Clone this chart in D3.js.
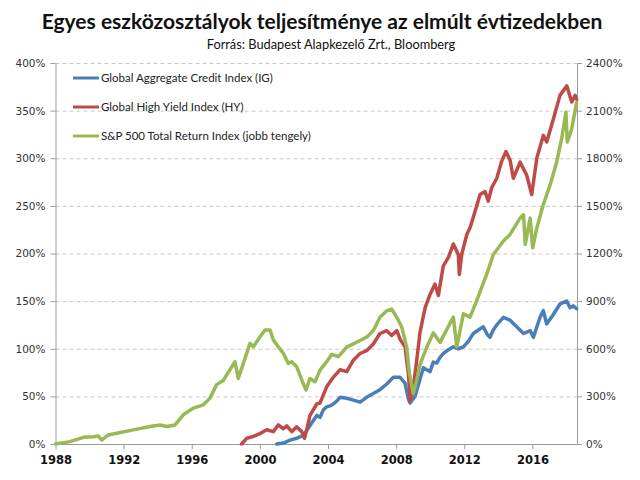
<!DOCTYPE html>
<html><head><meta charset="utf-8">
<script src="https://cdn.jsdelivr.net/npm/d3@7"></script>
<style>body{margin:0;background:#fff}svg{display:block}</style>
</head><body>
<svg id="c" width="640" height="480"></svg>
<script>
const titleText = "Egyes eszközosztályok teljesítménye az elmúlt évtizedekben";
const subtitleText = "Forrás: Budapest Alapkezelő Zrt., Bloomberg";
const seriesNames = ["Global Aggregate Credit Index (IG)", "Global High Yield Index (HY)", "S&P 500 Total Return Index (jobb tengely)"];
const xTicks = [1988, 1992, 1996, 2000, 2004, 2008, 2012, 2016];
const leftTicks = [0, 50, 100, 150, 200, 250, 300, 350, 400];
const rightTicks = [0, 300, 600, 900, 1200, 1500, 1800, 2100, 2400];

const igDates = [2000.99,2001.38,2001.77,2002.16,2002.55,2002.75,2003.04,2003.34,2003.53,2003.73,2003.92,2004.12,2004.31,2004.51,2004.71,2005.10,2005.49,2005.88,2006.27,2006.66,2007.05,2007.45,2007.84,2008.23,2008.52,2008.72,2008.82,2009.11,2009.40,2009.60,2009.80,2009.99,2010.18,2010.38,2010.58,2010.77,2011.07,2011.36,2011.65,2011.95,2012.25,2012.53,2012.85,2013.12,2013.35,2013.51,2013.71,2013.91,2014.30,2014.69,2015.08,2015.48,2015.87,2016.06,2016.45,2016.64,2016.84,2017.23,2017.62,2018.02,2018.21,2018.40,2018.60];
const igValues = [0,1,4,6,9,14,22,30,28,36,39,40,42,45,49,48,46,44,49,53,57,63,70,70,64,47,43,50,68,80,78,76,86,85,91,95,99,102,100,102,108,116,120,123,115,112,120,125,133,130,123,116,119,112,133,140,126,136,147,150,143,145,142];

const hyDates = [1998.93,1999.23,1999.62,2000.01,2000.40,2000.79,2001.08,2001.38,2001.58,2001.87,2002.16,2002.46,2002.62,2002.75,2002.94,2003.34,2003.53,2003.92,2004.31,2004.71,2005.10,2005.49,2005.88,2006.27,2006.66,2007.05,2007.45,2007.74,2008.04,2008.23,2008.52,2008.72,2008.82,2009.01,2009.21,2009.40,2009.70,2009.99,2010.28,2010.48,2010.77,2011.07,2011.36,2011.65,2011.71,2011.85,2012.15,2012.34,2012.53,2012.93,2013.22,2013.41,2013.61,2013.91,2014.20,2014.45,2014.69,2014.88,2015.28,2015.67,2015.96,2016.26,2016.64,2016.84,2017.23,2017.62,2018.02,2018.31,2018.51,2018.60];
const hyValues = [0,6,8,11,15,13,20,16,19,13,18,13,6,15,30,42,43,60,70,78,76,88,95,98,105,116,119,114,119,110,102,74,45,60,88,117,143,157,168,156,187,196,210,199,178,199,220,227,238,262,265,255,269,279,297,307,298,279,296,282,262,300,324,317,341,366,376,359,366,362];

const spDates = [1988.00,1988.85,1989.63,1990.22,1990.51,1990.71,1991.10,1991.59,1992.57,1993.55,1994.14,1994.53,1995.02,1995.50,1996.09,1996.68,1997.07,1997.46,1997.85,1998.05,1998.54,1998.73,1999.13,1999.42,1999.62,2000.01,2000.30,2000.60,2000.79,2001.08,2001.38,2001.67,2001.87,2002.16,2002.46,2002.71,2002.94,2003.24,2003.53,2003.92,2004.22,2004.61,2005.10,2005.49,2005.88,2006.27,2006.66,2007.05,2007.45,2007.74,2008.04,2008.33,2008.62,2008.78,2009.01,2009.21,2009.40,2009.80,2010.18,2010.58,2011.36,2011.56,2011.95,2012.34,2012.73,2013.32,2013.71,2014.30,2014.69,2015.28,2015.48,2015.58,2015.87,2016.02,2016.26,2016.64,2017.04,2017.43,2017.72,2017.97,2018.05,2018.31,2018.60];
const spValues = [0,15,42,46,51,25,57,68,89,110,120,110,120,184,226,247,289,374,400,435,518,413,539,634,613,676,718,718,655,613,571,508,518,487,403,340,413,392,465,518,565,550,610,631,652,673,715,798,840,850,798,736,610,444,319,402,500,610,700,640,800,612,820,799,903,1070,1194,1279,1320,1423,1444,1257,1423,1236,1361,1507,1632,1777,1923,2090,1902,1985,2152];

const colors = ["#4a7ebb", "#be4b48", "#98b954"];

const svg = d3.select("#c");
const L = 55.5, R = 577, T = 63, B = 444;
const x = d3.scaleLinear().domain([1988, 2018.62]).range([L, R]);
const yL = d3.scaleLinear().domain([0, 400]).range([B, T]);
const yR = d3.scaleLinear().domain([0, 2400]).range([B, T]);

// title
svg.append("text").attr("x", 322).attr("y", 29).attr("text-anchor", "middle")
  .attr("font-family", "Lato, 'Open Sans', sans-serif").attr("font-weight", "bold")
  .attr("font-size", 21).attr("fill", "#111").text(titleText);
svg.append("text").attr("x", 331).attr("y", 49).attr("text-anchor", "middle")
  .attr("font-family", "Lato, 'Open Sans', sans-serif")
  .attr("font-size", 12.8).attr("fill", "#111").text(subtitleText);

// gridlines
svg.append("g").selectAll("line").data(leftTicks.filter(d => d > 0)).join("line")
  .attr("x1", L).attr("x2", R).attr("y1", d => yL(d) + 0.5).attr("y2", d => yL(d) + 0.5)
  .attr("stroke", "#c8c8c8").attr("stroke-dasharray", "4,3").attr("stroke-width", 1);

// left axis
const gl = svg.append("g").attr("transform", `translate(${L},0)`)
  .call(d3.axisLeft(yL).tickValues(leftTicks).tickFormat(d => d + "%").tickSize(5).tickSizeOuter(0));
// right axis
const gr = svg.append("g").attr("transform", `translate(${R},0)`)
  .call(d3.axisRight(yR).tickValues(rightTicks).tickFormat(d => d + "%").tickSize(5).tickSizeOuter(0));
// bottom axis
const gb = svg.append("g").attr("transform", `translate(0,${B})`)
  .call(d3.axisBottom(x).tickValues(xTicks).tickFormat(d3.format("d")).tickSize(5).tickSizeOuter(0));

[gl, gr, gb].forEach(g => {
  g.selectAll("path.domain").attr("stroke", "#9a9a9a");
  g.selectAll(".tick line").attr("stroke", "#9a9a9a");
  g.selectAll("text").attr("font-family", "'DejaVu Sans', Verdana, sans-serif").attr("fill", "#333");
});
gl.selectAll("text").attr("font-size", 10.5).attr("x", -10);
gr.selectAll("text").attr("font-size", 10.5).attr("x", 9);
gb.selectAll("text").attr("font-size", 11.5).attr("font-weight", "bold").attr("fill", "#111").attr("y", 12);

// lines
const lineL = d3.line().x(d => x(d[0])).y(d => yL(d[1])).curve(d3.curveLinear);
const lineR = d3.line().x(d => x(d[0])).y(d => yR(d[1])).curve(d3.curveLinear);
const ig = igDates.map((d, i) => [d, igValues[i]]);
const hy = hyDates.map((d, i) => [d, hyValues[i]]);
const sp = spDates.map((d, i) => [d, spValues[i]]);

const gLines = svg.append("g").attr("fill", "none").attr("stroke-width", 3.5)
  .attr("stroke-linejoin", "round").attr("stroke-linecap", "round");
gLines.append("path").attr("d", lineL(ig)).attr("stroke", colors[0]);
gLines.append("path").attr("d", lineL(hy)).attr("stroke", colors[1]);
gLines.append("path").attr("d", lineR(sp)).attr("stroke", colors[2]);

// legend
const leg = svg.append("g");
seriesNames.forEach((n, i) => {
  const yy = 78 + i * 29;
  leg.append("line").attr("x1", 73).attr("x2", 99).attr("y1", yy).attr("y2", yy)
    .attr("stroke", colors[i]).attr("stroke-width", 3);
  leg.append("text").attr("x", 101).attr("y", yy + 4)
    .attr("font-family", "Lato, 'Open Sans', sans-serif").attr("font-size", 11.5)
    .attr("fill", "#222").text(n);
});
</script>
</body></html>
